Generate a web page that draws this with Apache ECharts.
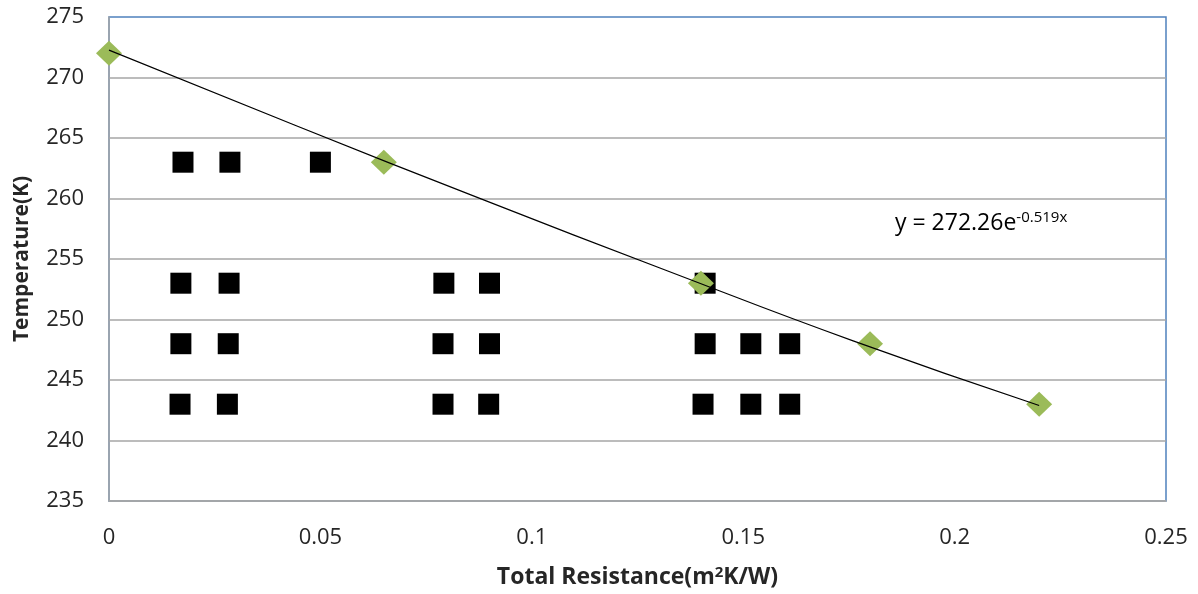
<!DOCTYPE html>
<html>
<head>
<meta charset="utf-8">
<script src="https://cdn.jsdelivr.net/npm/echarts@6/dist/echarts.min.js"></script>
<style>
  html, body { margin: 0; padding: 0; background: #fff; }
  #chart { width: 1198px; height: 594px; }
</style>
</head>
<body>
<div id="chart"></div>
<script>
// Measured test points: total resistance (m²K/W) vs. temperature (K)
const measuredR = [
  0.0175, 0.0286, 0.050,
  0.017, 0.0284, 0.0792, 0.090, 0.141,
  0.017, 0.0282, 0.0790, 0.090, 0.141, 0.1518, 0.161,
  0.0168, 0.028, 0.0790, 0.0898, 0.1405, 0.1518, 0.161
];
const measuredT = [
  263, 263, 263,
  253, 253, 253, 253, 253,
  248, 248, 248, 248, 248, 248, 248,
  243, 243, 243, 243, 243, 243, 243
];

// Critical points (green diamonds)
const criticalR = [0, 0.065, 0.14, 0.18, 0.22];
const criticalT = [272, 263, 253, 248, 243];

// Exponential trend line y = 272.26e^(-0.519x), sampled along its span
const trendR = [0, 0.044, 0.088, 0.132, 0.176, 0.22];
const trendT = [272.26, 266.05, 259.97, 254.03, 248.23, 242.89];

// Axis ticks
const yTicks = [235, 240, 245, 250, 255, 260, 265, 270, 275];
const xMin = 0, xMax = 0.25, xStep = 0.05;

const font = '"Open Sans", "Liberation Sans", sans-serif';
const zip = (a, b) => a.map((v, i) => [v, b[i]]);

// Horizontal gridlines in grey; the top one is left to the blue frame
const gridColors = yTicks.map((t, i) => i === yTicks.length - 1 ? 'rgba(0,0,0,0)' : '#a6a6a6');

const chart = echarts.init(document.getElementById('chart'));
chart.setOption({
  animation: false,
  backgroundColor: '#ffffff',
  grid: {
    left: 109, right: 32, top: 17, bottom: 92,
    show: true,
    borderColor: '#4f81bd',
    borderWidth: 1.5,
    backgroundColor: 'transparent'
  },
  xAxis: {
    type: 'value',
    min: xMin, max: xMax, interval: xStep,
    name: '{t|Total Resistance(m}{s|2}{t|K/W)}',
    nameLocation: 'middle',
    nameGap: 64,
    nameTextStyle: {
      rich: {
        t: { fontFamily: font, fontWeight: 'bold', fontSize: 23, color: '#262626' },
        s: { fontFamily: font, fontWeight: 'bold', fontSize: 15, color: '#262626', verticalAlign: 'top', padding: [0, 0, 10, 0] }
      }
    },
    axisLine: { show: true, lineStyle: { color: '#a6a6a6', width: 1.5 } },
    axisTick: { show: false },
    splitLine: { show: false },
    axisLabel: {
      margin: 26,
      fontFamily: font, fontSize: 22, color: '#262626',
      formatter: v => String(+v.toFixed(2))
    }
  },
  yAxis: {
    type: 'value',
    min: yTicks[0], max: yTicks[yTicks.length - 1], interval: 5,
    name: 'Temperature(K)',
    nameLocation: 'middle',
    nameGap: 76,
    nameTextStyle: { fontFamily: font, fontWeight: 'bold', fontSize: 21, color: '#262626' },
    axisLine: { show: true, lineStyle: { color: '#a6a6a6', width: 1.5 } },
    axisTick: { show: false },
    splitLine: { show: true, lineStyle: { color: gridColors, width: 1.5 } },
    axisLabel: { margin: 25, fontFamily: font, fontSize: 22, color: '#262626' }
  },
  series: [
    {
      name: 'Measured',
      type: 'scatter',
      data: zip(measuredR, measuredT),
      symbol: 'rect',
      symbolSize: 21,
      itemStyle: { color: '#000000', opacity: 1 },
      z: 2
    },
    {
      name: 'Critical',
      type: 'scatter',
      data: zip(criticalR, criticalT),
      symbol: 'diamond',
      symbolSize: [26, 25],
      itemStyle: { color: '#9bbb59', opacity: 1 },
      z: 3
    },
    {
      name: 'Trend',
      type: 'line',
      data: zip(trendR, trendT),
      smooth: true,
      showSymbol: false,
      lineStyle: { color: '#000000', width: 1.2 },
      z: 4
    }
  ],
  graphic: [
    {
      type: 'text',
      left: 895,
      top: 210,
      style: {
        text: '{a|y = 272.26e}{b|-0.519x}',
        rich: {
          a: { fontFamily: font, fontSize: 23, color: '#262626' },
          b: { fontFamily: font, fontSize: 15, color: '#262626', verticalAlign: 'top', padding: [0, 0, 11, 0] }
        }
      }
    }
  ]
});
</script>
</body>
</html>
